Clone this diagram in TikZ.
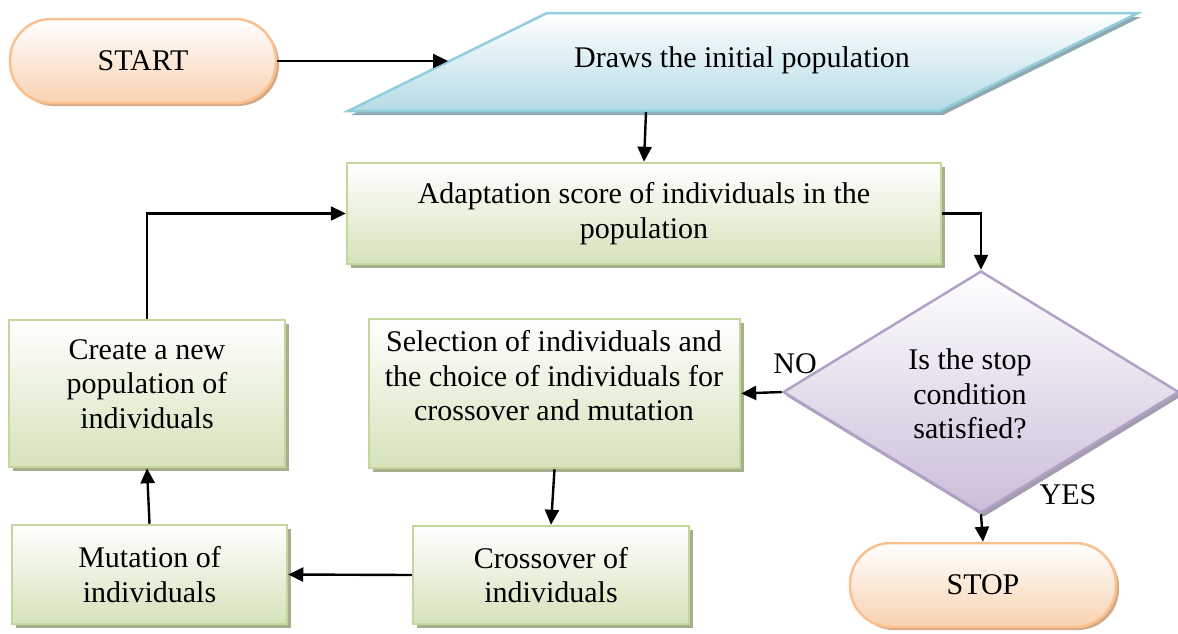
\documentclass[tikz,border=0pt]{standalone}
\usepackage{fontspec}
\setmainfont{Liberation Serif}
\usetikzlibrary{arrows.meta,shapes.geometric}

\definecolor{termline}{HTML}{FAC090}
\definecolor{termfill}{HTML}{F8D2B0}
\definecolor{termshadow}{HTML}{D3A987}
\definecolor{dataline}{HTML}{92CDDC}
\definecolor{datafill}{HTML}{B4DBE6}
\definecolor{datashadow}{HTML}{8EA9B1}
\definecolor{procline}{HTML}{C3D69B}
\definecolor{procfill}{HTML}{D5E2BA}
\definecolor{procshadow}{HTML}{A5AF8E}
\definecolor{decline}{HTML}{B2A1C7}
\definecolor{decfill}{HTML}{CABDD9}
\definecolor{decshadow}{HTML}{A49DB0}

\tikzset{
  txt/.style={font=\fontsize{30}{34.5}\selectfont, align=center, inner sep=0pt},
  terminal/.style={rectangle, rounded corners=41pt, draw=termline, line width=2.5pt,
    top color=white, bottom color=termfill,
    preaction={fill=termshadow, transform canvas={shift={(3pt,-3pt)}}},
    minimum width=266pt, minimum height=84pt, txt},
  datashape/.style={draw=dataline, line width=2.5pt, top color=white, bottom color=datafill,
    preaction={fill=datashadow, transform canvas={shift={(3pt,-4pt)}}}},
  process/.style={rectangle, draw=procline, line width=2.5pt,
    top color=white, bottom color=procfill,
    preaction={fill=procshadow, transform canvas={shift={(4pt,-4pt)}}}, txt},
  decision/.style={diamond, draw=decline, line width=2.5pt,
    top color=white, bottom color=decfill,
    preaction={fill=decshadow, transform canvas={shift={(3pt,-4pt)}}},
    minimum width=396pt, minimum height=242pt, inner sep=0pt},
  flow/.style={draw=black, line width=2.4pt, -{Triangle[length=15pt,width=14pt]}}
}

\begin{document}
\begin{tikzpicture}[x=1pt,y=-1pt]
\useasboundingbox (0,0) rectangle (1178,633);

% terminals
\node[terminal] (start) at (143,61) {START};
\node[terminal] (stop) at (983,585) {STOP};

% input parallelogram
\path[datashape] (348,111) -- (547,13) -- (1138,13) -- (940,111) -- cycle;
\node[txt] (pop) at (742,60) {Draws the initial population};
\coordinate (popin) at (448,61);
\coordinate (popout) at (646,112);

% process boxes
\node[process, minimum width=594pt, minimum height=101pt] (adapt) at (644,213.5)
  {Adaptation score of individuals in the\\population};
\node[process, minimum width=371pt, minimum height=149pt] (sel) at (554.5,393.5) {};
\node[txt] (seltext) at (554,376)
  {Selection of individuals and\\the choice of individuals for\\crossover and mutation};
\node[process, minimum width=276pt, minimum height=98pt] (cross) at (551,575)
  {Crossover of\\individuals};
\node[process, minimum width=275pt, minimum height=99pt] (mut) at (149.5,574.5)
  {Mutation of\\individuals};
\node[process, minimum width=276pt, minimum height=147pt] (create) at (147,393.5) {};
\node[txt] (createtext) at (147,384) {Create a new\\population of\\individuals};

% decision
\node[decision] (dia) at (981,392) {};
\node[txt] (diatext) at (970,394) {Is the stop\\condition\\satisfied?};
\node[txt] (no) at (795,364) {NO};
\node[txt] (yes) at (1068,495) {YES};

% connectors
\draw[flow] (start.east) -- (popin);
\draw[flow] (popout) -- (adapt.north);
\draw[flow] (adapt.east) -| (dia.north);
\draw[flow] (dia.west) -- (sel.east);
\draw[flow] (sel.south) -- (cross.north);
\draw[flow] (cross.west) -- (mut.east);
\draw[flow] (mut.north) -- (create.south);
\draw[flow] (create.north) |- (adapt.west);
\draw[flow] (dia.south) -- (stop.north);
\end{tikzpicture}
\end{document}
